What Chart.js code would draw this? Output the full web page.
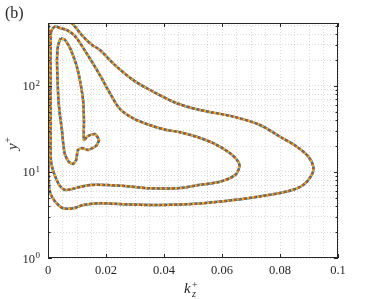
<!DOCTYPE html>
<html>
<head>
<meta charset="utf-8">
<script src="https://cdn.jsdelivr.net/npm/chart.js@4"></script>
<style>
  html, body { margin: 0; padding: 0; background: #fff; }
  #wrap { width: 374px; height: 299px; position: relative; }
</style>
</head>
<body>
<div id="wrap"><canvas id="c"></canvas></div>
<script>
// contour lines (k_z^+ , y^+)
const outerK = [0.0082, 0.0097, 0.0122, 0.0152, 0.0179, 0.0231, 0.0294, 0.0352, 0.0444, 0.0524, 0.0639, 0.0731, 0.0800, 0.0858, 0.0898, 0.0915, 0.0909, 0.0880, 0.0830, 0.0731, 0.0639, 0.0524, 0.0386, 0.0283, 0.0179, 0.0122, 0.0087, 0.0053, 0.0030, 0.0014, 0.0005, 0.0002, 0.0002, 0.0002];
const outerY = [540, 472, 373, 300, 262, 175, 117, 89.8, 63, 52.6, 44, 35.2, 25.7, 19.7, 15.1, 11.5, 9.2, 7.06, 6.0, 5.2, 4.72, 4.30, 4.13, 4.19, 4.33, 4.13, 3.78, 3.78, 4.33, 5.12, 6.2, 10.5, 68.7, 540];

const middleK = [0.0010, 0.0017, 0.0028, 0.0041, 0.0065, 0.0093, 0.0133, 0.0179, 0.0214, 0.0248, 0.0294, 0.0352, 0.0409, 0.0455, 0.0515, 0.0570, 0.0628, 0.0656, 0.0660, 0.0645, 0.0593, 0.0524, 0.0455, 0.0352, 0.0266, 0.0202, 0.0145, 0.0110, 0.0083, 0.0059, 0.0041, 0.0030, 0.0017, 0.0010, 0.0009, 0.0009, 0.0009, 0.0010];
const middleY = [425, 472, 492, 472, 447, 381, 240, 134, 82, 54, 42, 35, 30.8, 29, 25.5, 21.6, 16.5, 13.2, 11.5, 9.2, 7.7, 7.1, 6.5, 6.46, 6.87, 7.06, 7.06, 6.69, 6.35, 6.18, 6.87, 8.08, 10.5, 13.8, 30.8, 117, 262, 425];

const innerK = [0.0044, 0.0035, 0.0031, 0.0033, 0.0036, 0.0041, 0.0048, 0.0053, 0.0059, 0.0072, 0.0086, 0.0097, 0.0103, 0.0117, 0.0138, 0.0166, 0.0176, 0.0162, 0.0138, 0.0124, 0.0124, 0.0121, 0.0112, 0.0100, 0.0079, 0.0059, 0.0044];
const innerY = [359, 300, 200, 117, 68.7, 46, 30.8, 20.6, 15.8, 13.1, 12.4, 13.8, 18, 19, 18, 20.1, 23.6, 27.7, 26.2, 23.6, 40.2, 68.7, 108, 166, 262, 343, 359];

const contours = [[outerK, outerY], [middleK, middleY], [innerK, innerY]];
// top first: yellow and orange dotted over a solid blue
const lineColors = ['#EDB120', '#D95319', '#0072BD'];
const lineDashes = [[2, 3], [2, 3], []];
const dashOffsets = [3, 0, 0];

const xTickLabels = ['0', '0.02', '0.04', '0.06', '0.08', '0.1'];
const yDecades = [1, 10, 100];
const yDecadeLabels = ['0', '1', '2'];
const yMax = 540;

const serif = '"Liberation Serif", "DejaVu Serif", serif';
const ink = '#262626';

// y grid: 1..9 in each decade
const yGridValues = [];
yDecades.forEach(d => {
  for (let m = 1; m <= 9; m++) if (m * d <= yMax) yGridValues.push(m * d);
});

const datasets = [];
lineColors.forEach((col, i) => {
  contours.forEach(([ks, ys], c) => {
    datasets.push({
      data: ks.map((k, j) => ({ x: k, y: ys[j] })),
      showLine: true,
      borderColor: col,
      borderWidth: 2.5,
      borderDash: lineDashes[i],
      borderDashOffset: dashOffsets[i],
      pointRadius: 0,
      fill: false,
      tension: c === 2 ? 0.15 : 0.3
    });
  });
});

const framePlugin = {
  id: 'frame',
  afterDraw(chart) {
    const ctx = chart.ctx;
    const a = chart.chartArea;
    const xs = chart.scales.x, ys = chart.scales.y;
    ctx.save();
    ctx.strokeStyle = ink;
    ctx.lineWidth = 1;
    ctx.strokeRect(Math.round(a.left) + 0.5, Math.round(a.top) + 0.5,
      Math.round(a.right - a.left) - 1, Math.round(a.bottom - a.top) - 1);

    // x ticks, inward, top and bottom
    ctx.beginPath();
    for (let i = 0; i < xTickLabels.length; i++) {
      const px = Math.round(xs.getPixelForValue(Number(xTickLabels[i]))) + 0.5;
      ctx.moveTo(px, a.bottom); ctx.lineTo(px, a.bottom - 4);
      ctx.moveTo(px, a.top); ctx.lineTo(px, a.top + 4);
    }
    // y ticks, major and minor
    yGridValues.forEach(v => {
      const py = Math.round(ys.getPixelForValue(v)) + 0.5;
      const len = yDecades.includes(v) ? 4 : 2.5;
      ctx.moveTo(a.left, py); ctx.lineTo(a.left + len, py);
      ctx.moveTo(a.right, py); ctx.lineTo(a.right - len, py);
    });
    ctx.stroke();

    // y tick labels 10^n
    ctx.fillStyle = ink;
    yDecades.forEach((v, i) => {
      const py = ys.getPixelForValue(v);
      ctx.font = '9px ' + serif;
      ctx.textAlign = 'right';
      ctx.textBaseline = 'alphabetic';
      const ew = ctx.measureText(yDecadeLabels[i]).width;
      ctx.fillText(yDecadeLabels[i], 40, py + 0);
      ctx.font = '12.5px ' + serif;
      ctx.fillText('10', 40 - ew - 0.5, py + 4.5);
    });

    // panel label
    ctx.font = '16px ' + serif;
    ctx.textAlign = 'left';
    ctx.textBaseline = 'alphabetic';
    ctx.fillText('(b)', 5, 18);

    // x title k_z^+
    ctx.font = 'italic 15px ' + serif;
    ctx.fillText('k', 184, 293);
    ctx.font = 'italic 10px ' + serif;
    ctx.fillText('z', 192, 297);
    ctx.font = '10px ' + serif;
    ctx.fillText('+', 192, 288);

    // y title y^+
    ctx.translate(17, 150);
    ctx.rotate(-Math.PI / 2);
    ctx.font = 'italic 15px ' + serif;
    ctx.fillText('y', 0, 0);
    const yw = ctx.measureText('y').width;
    ctx.font = '10px ' + serif;
    ctx.fillText('+', yw + 0.5, -6);
    ctx.restore();
  }
};

new Chart(document.getElementById('c').getContext('2d'), {
  type: 'scatter',
  data: { datasets },
  options: {
    responsive: true,
    maintainAspectRatio: false,
    animation: false,
    layout: { padding: { left: 0, right: 36, top: 23, bottom: 0 } },
    plugins: { legend: { display: false }, tooltip: { enabled: false } },
    scales: {
      x: {
        type: 'linear',
        min: 0,
        max: 0.1,
        afterFit: s => { s.height = 41; },
        afterBuildTicks: s => {
          const t = [];
          for (let i = 0; i <= 20; i++) t.push({ value: i * 0.005 });
          s.ticks = t;
        },
        ticks: {
          autoSkip: false,
          maxRotation: 0,
          padding: 5,
          color: ink,
          font: { family: serif, size: 12.5 },
          callback: v => {
            const idx = Math.round(v / 0.02);
            return Math.abs(v - idx * 0.02) < 1e-9 ? xTickLabels[idx] : '';
          }
        },
        grid: { color: 'rgba(0,0,0,0.14)', lineWidth: 1, drawTicks: false },
        border: { display: false, dash: [1, 2] }
      },
      y: {
        type: 'logarithmic',
        min: 1,
        max: yMax,
        afterFit: s => { s.width = 48; },
        afterBuildTicks: s => { s.ticks = yGridValues.map(v => ({ value: v })); },
        ticks: { display: false, autoSkip: false },
        grid: { color: 'rgba(0,0,0,0.14)', lineWidth: 1, drawTicks: false },
        border: { display: false, dash: [1, 2] }
      }
    }
  },
  plugins: [framePlugin]
});
</script>
</body>
</html>
